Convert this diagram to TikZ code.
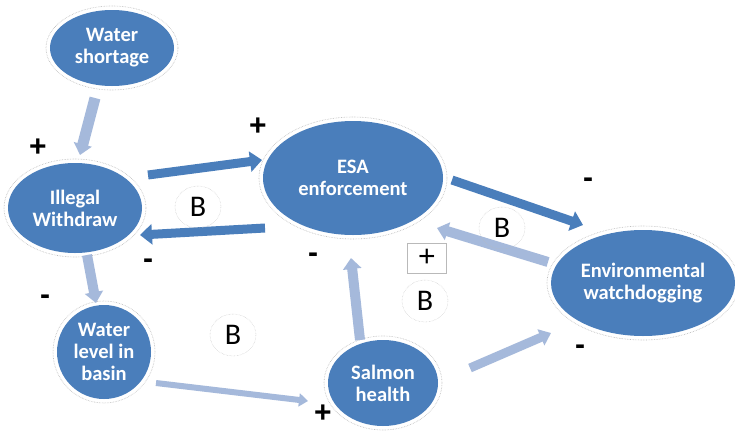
\documentclass[tikz,border=0pt]{standalone}
\usepackage{fontspec}
\setmainfont{Carlito}
\newfontfamily\signfont{Liberation Sans}
\usetikzlibrary{shapes.geometric,arrows.meta}
\definecolor{nodeblue}{HTML}{4A7EBB}
\definecolor{lightarrow}{HTML}{A5B9DB}
\begin{document}
\begin{tikzpicture}[x=1pt,y=-1pt,
 bub/.style={ellipse, fill=nodeblue, text=white, inner sep=0pt, align=center, font=\bfseries\fontsize{20.5}{22}\selectfont},
 halo/.style={draw=gray!55, densely dotted, line width=0.6pt},
 darr/.style={draw=nodeblue, line width=9pt, -{Triangle[length=12pt,width=20pt]}},
 larr/.style={draw=lightarrow, line width=#1, -{Triangle[length=11pt,width=18pt]}},
 sgn/.style={font=\signfont\bfseries\fontsize{30}{30}\selectfont, inner sep=0pt},
 bee/.style={ellipse, draw=gray!55, densely dotted, minimum width=46pt, minimum height=42pt, inner sep=0pt, font=\fontsize{30}{30}\selectfont},
 pbox/.style={draw=gray!55, minimum width=39pt, minimum height=30pt, inner sep=0pt, font=\signfont\fontsize{30}{30}\selectfont}]
\useasboundingbox[fill=white] (0,0) rectangle (735,431);

% nodes
\node[bub, minimum width=124pt, minimum height=76pt] (ws) at (112,48) {Water\\shortage};
\node[bub, minimum width=134pt, minimum height=90pt] (iw) at (75,208) {Illegal\\Withdraw};
\node[bub, minimum width=180pt, minimum height=114pt] (esa) at (353,178) {ESA\\enforcement};
\node[bub, minimum width=184pt, minimum height=106pt] (env) at (643,283) {Environmental\\watchdogging};
\node[bub, minimum width=94pt, minimum height=94pt] (wl) at (104,352) {Water\\level in\\basin};
\node[bub, minimum width=110pt, minimum height=86pt] (sh) at (383,383) {Salmon\\health};

% halos
\draw[halo] (ws.center) ellipse [x radius=66pt, y radius=42pt];
\draw[halo] (iw.center) ellipse [x radius=71pt, y radius=49pt];
\draw[halo] (esa.center) ellipse [x radius=94pt, y radius=61pt];
\draw[halo] (env.center) ellipse [x radius=96pt, y radius=57pt];
\draw[halo] (wl.center) ellipse [x radius=51pt, y radius=51pt];
\draw[halo] (sh.center) ellipse [x radius=59pt, y radius=47pt];

% connectors
\draw[larr=11pt] ([shift={(-17,50)}]ws.center) -- ([shift={(5,-53)}]iw.center);
\draw[darr] ([shift={(73,-33)}]iw.center) -- ([shift={(-91,-18)}]esa.center);
\draw[darr] ([shift={(-88,50)}]esa.center) -- ([shift={(65,27)}]iw.center);
\draw[larr=10pt] ([shift={(12,47)}]iw.center) -- ([shift={(-8,-49)}]wl.center);
\draw[draw=lightarrow, line width=6pt, -{Triangle[length=9pt,width=13pt]}] ([shift={(52,31)}]wl.center) -- ([shift={(-75,18)}]sh.center);
\draw[larr=10pt] ([shift={(-23,-43)}]sh.center) -- ([shift={(-2,80)}]esa.center);
\draw[draw=lightarrow, line width=9pt, -{Triangle[length=11pt,width=17pt]}] ([shift={(87,-15)}]sh.center) -- ([shift={(-92,50)}]env.center);
\draw[darr] ([shift={(99,2)}]esa.center) -- ([shift={(-60,-58)}]env.center);
\draw[larr=10pt] ([shift={(-95,-21)}]env.center) -- ([shift={(84,50)}]esa.center);

% polarity signs
\node[sgn] (p1) at (38,148) {+};
\node[sgn] (p2) at (258,127) {+};
\node[sgn] (p3) at (323,414) {+};
\node[sgn] (m1) at (588,183) {-};
\node[sgn] (m2) at (148,264) {-};
\node[sgn] (m3) at (45,300) {-};
\node[sgn] (m4) at (313,258) {-};
\node[sgn] (m5) at (580,350) {-};
\node[pbox] (pb) at (427,258) {+};

% loop markers
\node[bee] (b1) at (198,207) {B};
\node[bee] (b2) at (502,228) {B};
\node[bee] (b3) at (425,301) {B};
\node[bee] (b4) at (233,335) {B};
\end{tikzpicture}
\end{document}
